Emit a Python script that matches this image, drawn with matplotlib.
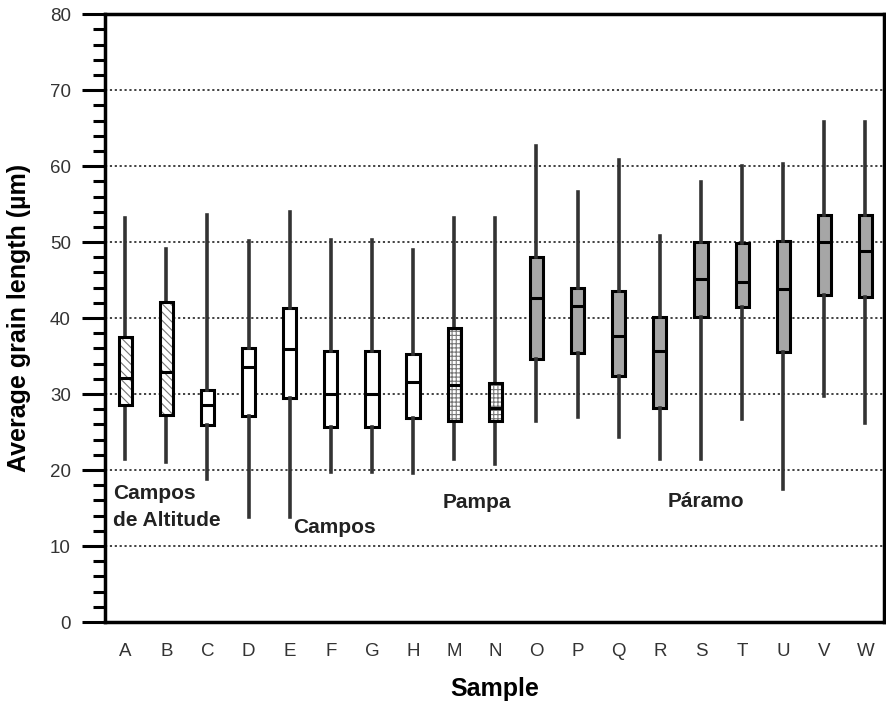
import numpy as np
import matplotlib.pyplot as plt
from matplotlib.patches import PathPatch
from matplotlib.ticker import MultipleLocator

plt.rcParams['font.family'] = ['Liberation Sans', 'DejaVu Sans']
plt.rcParams['hatch.linewidth'] = 0.8

# data
samples = ['A', 'B', 'C', 'D', 'E', 'F', 'G', 'H', 'M', 'N',
           'O', 'P', 'Q', 'R', 'S', 'T', 'U', 'V', 'W']
wmin = [21.5, 21.0, 18.8, 13.8, 13.8, 19.8, 19.8, 19.6, 21.4, 20.8,
        26.4, 27.0, 24.4, 21.4, 21.4, 26.7, 17.5, 29.7, 26.2]
q1 = [28.6, 27.3, 25.9, 27.1, 29.5, 25.6, 25.6, 26.9, 26.5, 26.4,
      34.6, 35.4, 32.4, 28.2, 40.2, 41.5, 35.6, 43.0, 42.8]
med = [32.1, 32.9, 28.6, 33.5, 35.9, 30.0, 30.0, 31.6, 31.2, 28.2,
       42.6, 41.6, 37.7, 35.7, 45.2, 44.8, 43.8, 50.0, 48.8]
q3 = [37.5, 42.1, 30.6, 36.1, 41.3, 35.7, 35.7, 35.3, 38.7, 31.4,
      48.1, 44.0, 43.6, 40.2, 50.0, 49.9, 50.2, 53.6, 53.6]
wmax = [53.2, 49.1, 53.5, 50.1, 53.9, 50.3, 50.3, 49.0, 53.2, 53.2,
        62.6, 56.6, 60.8, 50.8, 57.9, 60.0, 60.3, 65.8, 65.8]
biome = ['alt', 'alt', 'campos', 'campos', 'campos', 'campos', 'campos', 'campos',
         'pampa', 'pampa'] + ['paramo'] * 9

fig = plt.figure(figsize=(8.87, 7.07), dpi=100)
ax = fig.add_axes([0.1184, 0.1202, 0.8782, 0.8598])

stats = []
for i, s in enumerate(samples):
    stats.append(dict(label=s, whislo=wmin[i], q1=q1[i], med=med[i],
                      q3=q3[i], whishi=wmax[i]))

pos = np.arange(len(samples))
bp = ax.bxp(stats, positions=pos, widths=0.32, patch_artist=True,
            showcaps=False, showfliers=False,
            boxprops=dict(linewidth=2.2, edgecolor='black', facecolor='white'),
            whiskerprops=dict(linewidth=2.6, color='#333333'),
            medianprops=dict(linewidth=2.2, color='black'),
            zorder=3)

for m in bp['medians']:
    m.set_zorder(4)

for box, b in zip(bp['boxes'], biome):
    if b == 'paramo':
        box.set_facecolor('#a6a6a6')
    elif b in ('alt', 'pampa'):
        h = '\\\\\\\\' if b == 'alt' else '++++'
        hp = PathPatch(box.get_path(), facecolor='white', edgecolor='#777777',
                       hatch=h, linewidth=0, zorder=3.5)
        ax.add_patch(hp)
        box.set_zorder(3.6)
        box.set_facecolor('none')

ax.set_xlim(-0.49, 18.45)
ax.set_ylim(0, 80)

ax.yaxis.set_major_locator(MultipleLocator(10))
ax.yaxis.set_minor_locator(MultipleLocator(2))
ax.tick_params(axis='y', which='major', direction='out', length=16.5, width=2.2,
               labelsize=13.5, pad=8, colors='black', labelcolor='#333333')
ax.tick_params(axis='y', which='minor', direction='out', length=8.5, width=2.2)
ax.tick_params(axis='x', length=0, labelsize=13.5, pad=15, labelcolor='#333333')
ax.set_xticks(pos)
ax.set_xticklabels(samples)

for sp in ax.spines.values():
    sp.set_linewidth(2.5)

for yv in range(10, 80, 10):
    ax.axhline(yv, color='#333333', linestyle=(0, (1.2, 1.5)), linewidth=1.3, zorder=1)

ax.set_ylabel('Average grain length (µm)', fontsize=18, fontweight='bold')
ax.yaxis.set_label_coords(-0.095, 0.5)
ax.set_xlabel('Sample', fontsize=18, fontweight='bold', labelpad=12)

tk = dict(fontsize=15, fontweight='bold', color='#222222', ha='left', va='center')
ax.text(-0.29, 15.1, 'Campos\nde Altitude', linespacing=1.55, **tk)
ax.text(4.08, 12.5, 'Campos', **tk)
ax.text(7.72, 15.7, 'Pampa', **tk)
ax.text(13.19, 15.8, 'Páramo', **tk)

plt.savefig('out.png', dpi=100)
